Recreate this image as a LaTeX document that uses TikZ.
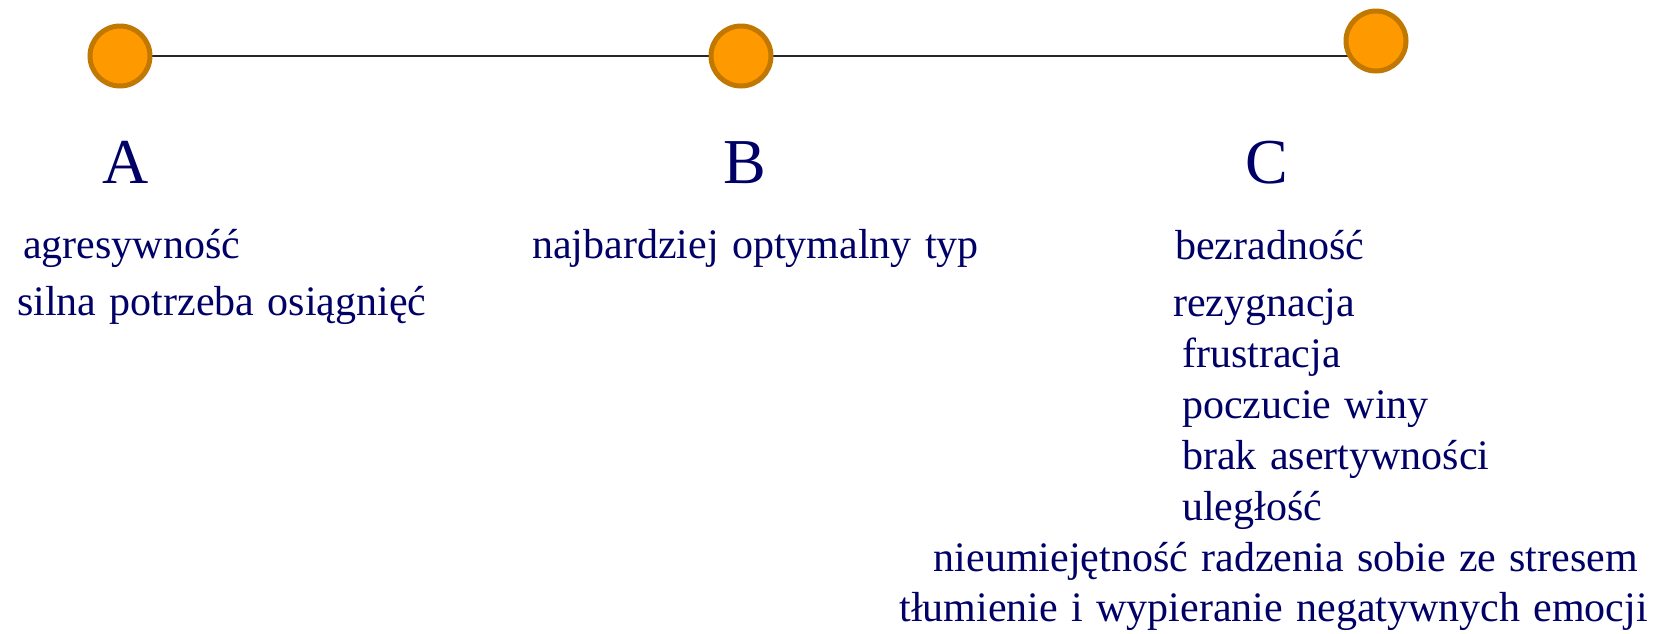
\documentclass[tikz,border=0pt]{standalone}
\usepackage{fontspec}
\setmainfont{Liberation Serif}
\usetikzlibrary{backgrounds}
\definecolor{dotfill}{HTML}{FF9900}
\definecolor{dotedge}{HTML}{C07800}
\definecolor{navytext}{HTML}{000066}
\newcommand{\itemfont}{\fontsize{42}{48}\selectfont\spaceskip=13.3pt plus 1pt minus 1pt\relax}
\begin{document}
\begin{tikzpicture}[x=1pt,y=-1pt,
  dot/.style={circle,fill=dotfill,draw=dotedge,line width=5pt,minimum size=60pt,inner sep=0pt},
  letter/.style={anchor=base,inner sep=0pt,text=navytext,font=\fontsize{64}{70}\selectfont},
  item/.style={anchor=base west,inner sep=0pt,text=navytext,font=\itemfont},
  itemr/.style={item,anchor=base east},
  link/.style={line width=2pt,draw=black!85}]
\useasboundingbox (0,0) rectangle (1668,633);
\node[dot] (A) at (120,56) {};
\node[dot] (B) at (741,56) {};
\node[dot] (C) at (1376,41) {};
\begin{pgfonlayer}{background}
\draw[link] (A.center) -- (B.center);
\draw[link] (B.center) -- (B.center -| C.center);
\end{pgfonlayer}
\node[letter] (la) at (126,183) {A};
\node[letter] (lb) at (745,183) {B};
\node[letter] (lc) at (1267,183) {C};
\node[item] (a1) at (23,258) {agresywność};
\node[item] (a2) at (17,315) {silna potrzeba osiągnięć};
\node[item] (b1) at (532,258) {najbardziej optymalny typ};
\node[item] (c1) at (1175,259) {bezradność};
\node[item] (c2) at (1173,316) {rezygnacja};
\node[item] (c3) at (1182,367) {frustracja};
\node[item] (c4) at (1182,418) {poczucie winy};
\node[item] (c5) at (1182,469) {brak asertywności};
\node[item] (c6) at (1182,520) {uległość};
\node[itemr] (c7) at (1638,571) {nieumiejętność radzenia sobie ze stresem};
\node[itemr] (c8) at (1648,621) {tłumienie i wypieranie negatywnych emocji};
\end{tikzpicture}
\end{document}
